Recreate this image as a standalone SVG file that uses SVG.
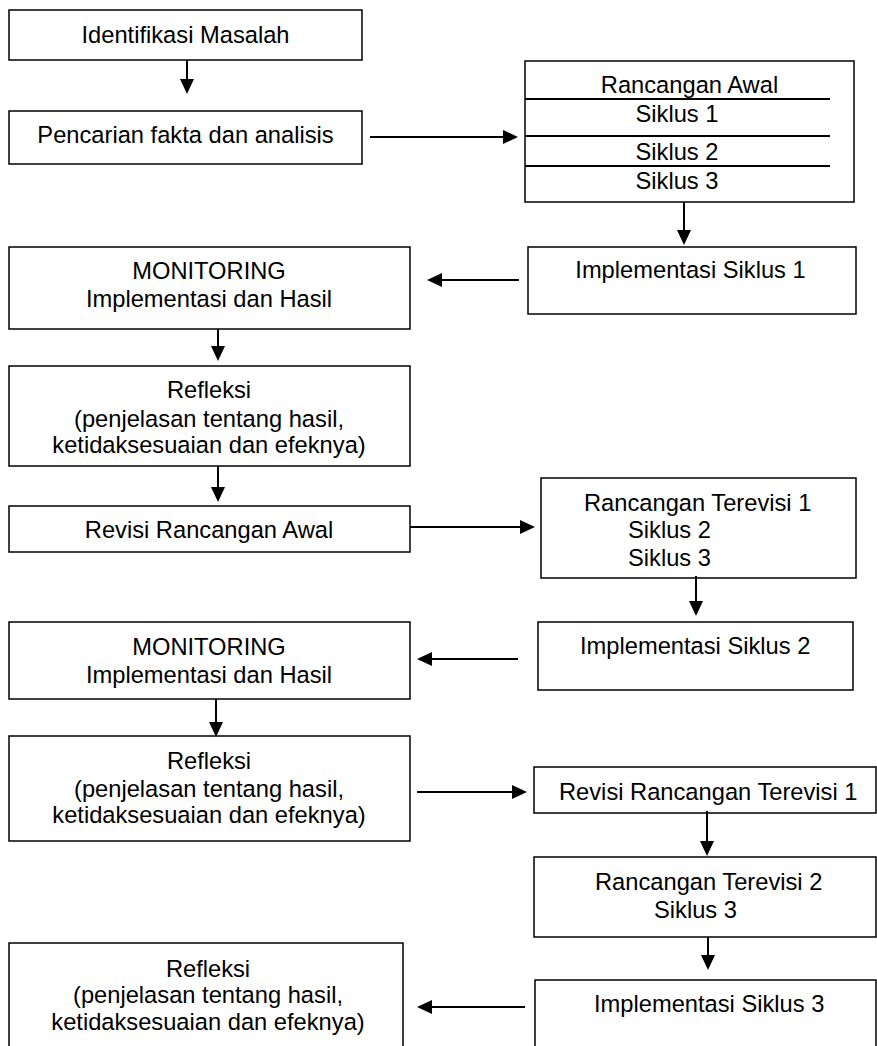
<svg xmlns="http://www.w3.org/2000/svg" width="877" height="1046" viewBox="0 0 877 1046">
<style>
.box{fill:#fff;stroke:#000;stroke-width:1.5}
.sep{stroke:#000;stroke-width:1.8}
.t{font-family:"Liberation Sans",Arial,sans-serif;font-size:23.7px;fill:#000}
.c{text-anchor:middle}
.s{text-anchor:start}
.con{fill:none;stroke:#000;stroke-width:2;marker-end:url(#ah)}
</style>
<defs>
<marker id="ah" markerUnits="userSpaceOnUse" markerWidth="16" markerHeight="15" refX="13" refY="7" orient="auto">
<path d="M0,0 L15,7 L0,14 z" fill="#000"/>
</marker>
</defs>
<rect width="877" height="1046" fill="#fff"/>
<g id="n1"><rect class="box" x="9" y="10" width="353" height="50"/><text class="t c" x="185.5" y="43">Identifikasi Masalah</text></g>
<g id="n2"><rect class="box" x="9" y="111" width="353" height="53"/><text class="t c" x="185.5" y="143">Pencarian fakta dan analisis</text></g>
<g id="n3"><rect class="box" x="525" y="61" width="329" height="141"/>
<line class="sep" x1="525" y1="99" x2="830" y2="99"/><line class="sep" x1="525" y1="136" x2="830" y2="136"/><line class="sep" x1="525" y1="166" x2="830" y2="166"/>
<text class="t c" x="689.5" y="93">Rancangan Awal</text><text class="t c" x="677" y="122">Siklus 1</text><text class="t c" x="677" y="160">Siklus 2</text><text class="t c" x="677" y="189">Siklus 3</text></g>
<g id="n4"><rect class="box" x="528" y="247" width="328" height="67"/><text class="t c" x="690.5" y="278">Implementasi Siklus 1</text></g>
<g id="n5"><rect class="box" x="9" y="247" width="401" height="82"/><text class="t c" x="209" y="279">MONITORING</text><text class="t c" x="209" y="307">Implementasi dan Hasil</text></g>
<g id="n6"><rect class="box" x="9" y="366" width="401" height="100"/><text class="t c" x="209" y="398">Refleksi</text><text class="t c" x="209" y="427">(penjelasan tentang hasil,</text><text class="t c" x="209" y="453">ketidaksesuaian dan efeknya)</text></g>
<g id="n7"><rect class="box" x="9" y="506" width="401" height="46"/><text class="t c" x="209" y="538">Revisi Rancangan Awal</text></g>
<g id="n8"><rect class="box" x="541" y="478" width="315" height="100"/><text class="t s" x="584" y="511">Rancangan Terevisi 1</text><text class="t s" x="628" y="538">Siklus 2</text><text class="t s" x="628" y="566">Siklus 3</text></g>
<g id="n9"><rect class="box" x="538" y="622" width="315" height="68"/><text class="t s" x="580" y="654">Implementasi Siklus 2</text></g>
<g id="n10"><rect class="box" x="9" y="622" width="401" height="77"/><text class="t c" x="209" y="655">MONITORING</text><text class="t c" x="209" y="683">Implementasi dan Hasil</text></g>
<g id="n11"><rect class="box" x="9" y="736" width="401" height="105"/><text class="t c" x="209" y="769">Refleksi</text><text class="t c" x="209" y="797">(penjelasan tentang hasil,</text><text class="t c" x="209" y="823">ketidaksesuaian dan efeknya)</text></g>
<g id="n12"><rect class="box" x="534" y="767" width="342" height="46"/><text class="t s" x="559" y="800">Revisi Rancangan Terevisi 1</text></g>
<g id="n13"><rect class="box" x="534" y="857" width="342" height="80"/><text class="t s" x="595" y="890">Rancangan Terevisi 2</text><text class="t s" x="654" y="918">Siklus 3</text></g>
<g id="n14"><rect class="box" x="535" y="980" width="341" height="80"/><text class="t s" x="594" y="1012">Implementasi Siklus 3</text></g>
<g id="n15"><rect class="box" x="9" y="943" width="394" height="120"/><text class="t c" x="208" y="977">Refleksi</text><text class="t c" x="208" y="1003">(penjelasan tentang hasil,</text><text class="t c" x="208" y="1030">ketidaksesuaian dan efeknya)</text></g>
<g id="connectors">
<line class="con" x1="187" y1="60" x2="187" y2="92"/>
<line class="con" x1="370" y1="137" x2="516" y2="137"/>
<line class="con" x1="684" y1="202" x2="684" y2="243"/>
<line class="con" x1="519" y1="280" x2="429" y2="280"/>
<line class="con" x1="218" y1="329" x2="218" y2="359"/>
<line class="con" x1="218" y1="466" x2="218" y2="500"/>
<line class="con" x1="410" y1="527" x2="533" y2="527"/>
<line class="con" x1="696" y1="576" x2="696" y2="614"/>
<line class="con" x1="518" y1="659" x2="419" y2="659"/>
<line class="con" x1="216" y1="699" x2="216" y2="735"/>
<line class="con" x1="417" y1="792" x2="525" y2="792"/>
<line class="con" x1="707" y1="811" x2="707" y2="854"/>
<line class="con" x1="708" y1="937" x2="708" y2="968"/>
<line class="con" x1="525" y1="1007" x2="419" y2="1007"/>
</g>
</svg>
